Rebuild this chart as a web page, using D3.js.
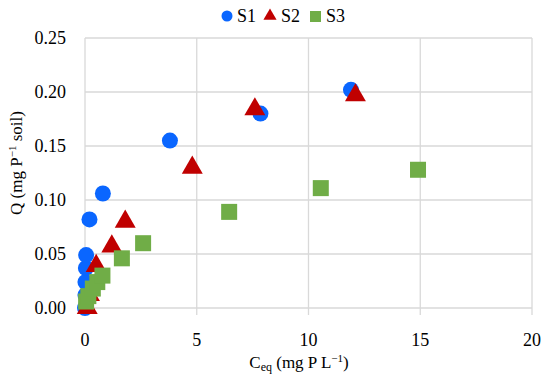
<!DOCTYPE html>
<head>
    <meta charset='utf-8'>
    <style>
        body {
            margin: 0;
            background: #fff;
        }
        svg text {
            font-family: 'Liberation Serif', 'DejaVu Serif', serif;
            fill: #000;
        }
        .tick-label { font-size: 18px; }
        .title { font-size: 17px; }
        .legend text { font-size: 18px; }
    </style>
</head>
<body>
<div id='vis'></div>
<script src='https://d3js.org/d3.v7.min.js'></script>
<script>
  // S1 / S2 / S3 : [Ceq, Q]
  const s1 = [[0, 0.000], [0.02, 0.012], [0.02, 0.024], [0.04, 0.037], [0.05, 0.049],
    [0.2, 0.082], [0.8, 0.106], [3.8, 0.155], [7.85, 0.180], [11.9, 0.202]]
  const s2 = [[0.1, 0.000], [0.2, 0.012], [0.5, 0.039], [1.2, 0.057], [1.8, 0.080],
    [4.8, 0.130], [7.6, 0.184], [12.1, 0.197]]
  const s3 = [[0.05, 0.006], [0.15, 0.011], [0.35, 0.018], [0.55, 0.024], [0.78, 0.030],
    [1.65, 0.046], [2.6, 0.060], [6.45, 0.089], [10.55, 0.111], [14.9, 0.128]]
  const xTicks = [0, 5, 10, 15, 20]
  const yTicks = [0, 0.05, 0.10, 0.15, 0.20, 0.25]

  const width = 550, height = 387
  const margin = {top: 38, right: 18, bottom: 79, left: 85}

  const x = d3.scaleLinear().domain([0, 20]).range([margin.left, width - margin.right])
  const y = d3.scaleLinear().domain([0, 0.25]).range([height - margin.bottom, margin.top])

  const svg = d3.select('#vis').append('svg')
    .attr('width', width)
    .attr('height', height)

  // 网格
  const grid = svg.append('g').attr('stroke', '#d9d9d9').attr('stroke-width', 1.3)
  grid.selectAll('.hy').data(yTicks).enter().append('line')
    .attr('x1', x(0)).attr('x2', x(20))
    .attr('y1', d => y(d)).attr('y2', d => y(d))
  grid.selectAll('.vx').data(xTicks).enter().append('line')
    .attr('x1', d => x(d)).attr('x2', d => x(d))
    .attr('y1', y(0.25)).attr('y2', y(0) + 7)

  // 刻度标签
  svg.append('g').selectAll('text').data(yTicks).enter().append('text')
    .attr('class', 'tick-label')
    .attr('x', 66)
    .attr('y', d => y(d))
    .attr('dy', '0.35em')
    .attr('text-anchor', 'end')
    .text(d => d3.format('.2f')(d))

  svg.append('g').selectAll('text').data(xTicks).enter().append('text')
    .attr('class', 'tick-label')
    .attr('x', d => x(d))
    .attr('y', 346)
    .attr('text-anchor', 'middle')
    .text(d => d)

  // 轴标题
  const xt = svg.append('text').attr('class', 'title')
    .attr('x', 299).attr('y', 368).attr('text-anchor', 'middle')
  xt.append('tspan').text('C')
  xt.append('tspan').attr('font-size', '12px').attr('dy', 3).text('eq')
  xt.append('tspan').attr('dy', -3).text(' (mg P L')
  xt.append('tspan').attr('font-size', '11px').attr('dy', -6).text('−1')
  xt.append('tspan').attr('dy', 6).text(')')

  const yt = svg.append('text').attr('class', 'title')
    .attr('transform', `translate(22, ${(y(0) + y(0.25)) / 2 - 10}) rotate(-90)`)
    .attr('text-anchor', 'middle')
  yt.append('tspan').text('Q (mg P')
  yt.append('tspan').attr('font-size', '11px').attr('dy', -6).text('−1')
  yt.append('tspan').attr('dy', 6).text(' soil)')

  // 数据点
  const tri = d3.symbol().type(d3.symbolTriangle).size(190)

  svg.append('g').selectAll('circle').data(s1).enter().append('circle')
    .attr('cx', d => x(d[0])).attr('cy', d => y(d[1]))
    .attr('r', 8).attr('fill', '#0a66ff')

  svg.append('g').selectAll('path').data(s2).enter().append('path')
    .attr('d', tri)
    .attr('transform', d => `translate(${x(d[0])}, ${y(d[1])})`)
    .attr('fill', '#c00000')

  svg.append('g').selectAll('rect').data(s3).enter().append('rect')
    .attr('x', d => x(d[0]) - 8).attr('y', d => y(d[1]) - 8)
    .attr('width', 16).attr('height', 16)
    .attr('fill', '#70ad47')

  // 图例
  const legend = svg.append('g').attr('class', 'legend')
  legend.append('circle').attr('cx', 227).attr('cy', 16).attr('r', 5.5).attr('fill', '#0a66ff')
  legend.append('text').attr('x', 237).attr('y', 22).text('S1')
  legend.append('path').attr('d', d3.symbol().type(d3.symbolTriangle).size(75))
    .attr('transform', 'translate(270, 16)').attr('fill', '#c00000')
  legend.append('text').attr('x', 281).attr('y', 22).text('S2')
  legend.append('rect').attr('x', 310).attr('y', 11).attr('width', 11).attr('height', 11).attr('fill', '#70ad47')
  legend.append('text').attr('x', 326).attr('y', 22).text('S3')
</script>
</body>
